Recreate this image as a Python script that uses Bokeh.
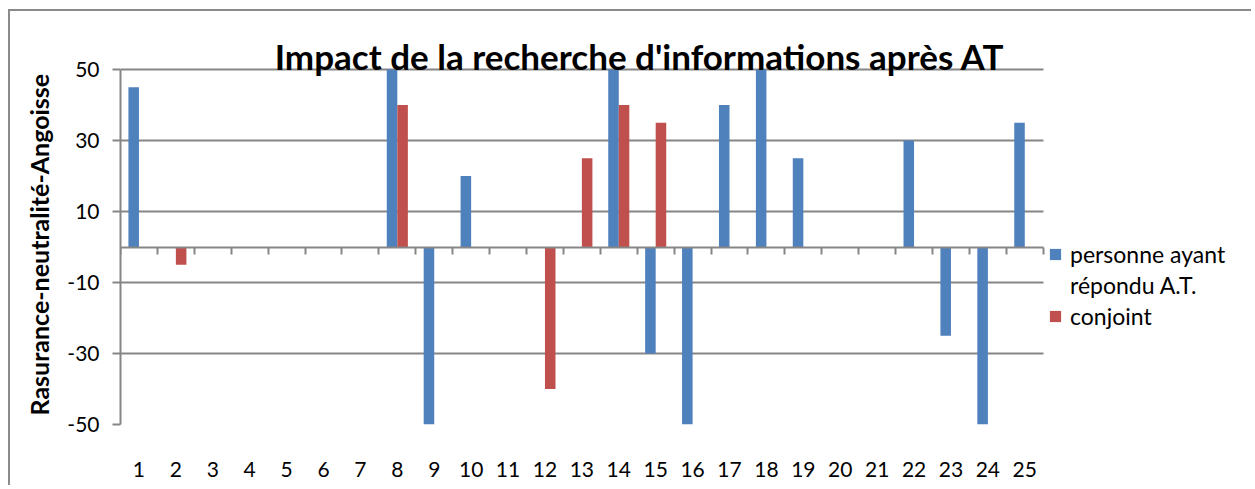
from bokeh.plotting import figure
from bokeh.models import (ColumnDataSource, Range1d, LinearAxis, FixedTicker, Label,
                          Legend, LegendItem, Title)
from bokeh.transform import dodge
from bokeh.embed import file_html
from bokeh.resources import INLINE

title = "Impact de la recherche d'informations après AT"
y_label = "Rasurance-neutralité-Angoisse"
categories = [str(i) for i in range(1, 26)]
personne = [45, 0, 0, 0, 0, 0, 0, 50, -50, 20, 0, 0, 0, 50, -30, -50, 40, 50, 25, 0, 0, 30, -25, -50, 35]
conjoint = [0, -5, 0, 0, 0, 0, 0, 40, 0, 0, 0, -40, 25, 40, 35, 0, 0, 0, 0, 0, 0, 0, 0, 0, 0]
y_ticks = [-50, -30, -10, 10, 30, 50]

BLUE = "#4F81BD"
RED = "#C0504D"
GRID = "#868686"
FONT = "Lato"

n = len(categories)
pos = list(range(1, n + 1))
src = ColumnDataSource(dict(x=pos, personne=personne, conjoint=conjoint))

# layout (page pixels): plot area of the bars, canvas origin
W, H = 1243, 476
OX, OY = 10, 11
AREA_L, AREA_R, AREA_T, AREA_B = 116, 1042, 69, 424
TOP_BORDER = 5
kx = (AREA_R - AREA_L) / n
ky = (AREA_B - AREA_T) / (y_ticks[-1] - y_ticks[0])
x_end = 0.5 + (OX + W - AREA_L) / kx
y_end = y_ticks[-1] + (AREA_T - (OY + TOP_BORDER)) / ky

p = figure(width=W, height=H, output_backend="svg", toolbar_location=None,
           x_range=Range1d(0.5, x_end), y_range=Range1d(y_ticks[0], y_end),
           x_axis_location=None, y_axis_location=None,
           min_border_left=AREA_L - OX, min_border_right=0,
           min_border_top=TOP_BORDER, min_border_bottom=OY + H - AREA_B)
p.margin = (9, 0, 0, 8)
p.styles = {"border-left": "2px solid #8a8a8a", "border-top": "2px solid #8a8a8a"}
p.outline_line_color = None
p.background_fill_color = "white"
p.border_fill_color = "white"

bw = 1 / 3.5
rb = p.vbar(x=dodge("x", -bw / 2, range=p.x_range), top="personne", bottom=0, width=bw,
            source=src, fill_color=BLUE, line_color=None)
rr = p.vbar(x=dodge("x", bw / 2, range=p.x_range), top="conjoint", bottom=0, width=bw,
            source=src, fill_color=RED, line_color=None)
rinv = p.vbar(x=[], top=[], width=bw, fill_alpha=0, line_alpha=0)

# y axis
yax = LinearAxis(ticker=FixedTicker(ticks=y_ticks), bounds=(y_ticks[0], y_ticks[-1]),
                 major_label_overrides={t: str(t) for t in y_ticks})
yax.axis_line_color = GRID
yax.axis_line_width = 2
yax.major_tick_line_color = GRID
yax.major_tick_line_width = 2
yax.major_tick_out = 8
yax.major_tick_in = 0
yax.minor_tick_line_color = None
yax.major_label_standoff = 13
yax.major_label_text_font = FONT
yax.major_label_text_font_size = "21px"
yax.major_label_text_color = "black"
p.add_layout(yax, "left")

# y axis title, started level with the bottom of the bar area
p.add_layout(Title(text=y_label, align="left", offset=9, standoff=22,
                   text_font=FONT, text_font_style="bold", text_font_size="25px",
                   text_color="black"), "left")

# bottom labels axis
xax = LinearAxis(ticker=FixedTicker(ticks=pos),
                 major_label_overrides={i: c for i, c in zip(pos, categories)})
xax.axis_line_color = None
xax.major_tick_line_color = None
xax.minor_tick_line_color = None
xax.major_label_standoff = 31
xax.major_label_text_font = FONT
xax.major_label_text_font_size = "21px"
xax.major_label_text_color = "black"
p.add_layout(xax, "below")

# zero axis with category boundary ticks
zax = LinearAxis(fixed_location=0, bounds=(0.5, n + 0.5),
                 ticker=FixedTicker(ticks=[i + 0.5 for i in range(0, n + 1)]))
zax.axis_line_color = GRID
zax.axis_line_width = 2
zax.major_tick_line_color = GRID
zax.major_tick_line_width = 2
zax.major_tick_in = 0
zax.major_tick_out = 7
zax.minor_tick_line_color = None
zax.major_label_text_font_size = "0px"
zax.major_label_standoff = 0
p.add_layout(zax, "below")

p.xgrid.grid_line_color = None
p.ygrid.ticker = FixedTicker(ticks=y_ticks)
p.ygrid.grid_line_color = GRID
p.ygrid.grid_line_width = 2
p.ygrid.cross_bounds = (0.5, n + 0.5)

# title
p.add_layout(Label(x=0.5 + (637 - AREA_L) / kx, y=y_ticks[-1], y_offset=14, text=title,
                   text_align="center", text_baseline="alphabetic", text_font=FONT,
                   text_font_style="bold", text_font_size="35px", text_color="black"))

legend = Legend(items=[LegendItem(label="personne ayant", renderers=[rb]),
                       LegendItem(label="répondu A.T.", renderers=[rinv]),
                       LegendItem(label="conjoint", renderers=[rr])],
                location=(AREA_R + 2 - AREA_L, 94))
legend.glyph_width = 14
legend.glyph_height = 14
legend.label_height = 22
legend.spacing = 3
legend.padding = 0
legend.margin = 0
legend.label_standoff = 8
legend.label_text_font = FONT
legend.label_text_font_size = "23px"
legend.label_text_color = "black"
legend.border_line_color = None
legend.background_fill_alpha = 0
p.add_layout(legend, "center")

open("out.html", "w").write(file_html(p, INLINE))
